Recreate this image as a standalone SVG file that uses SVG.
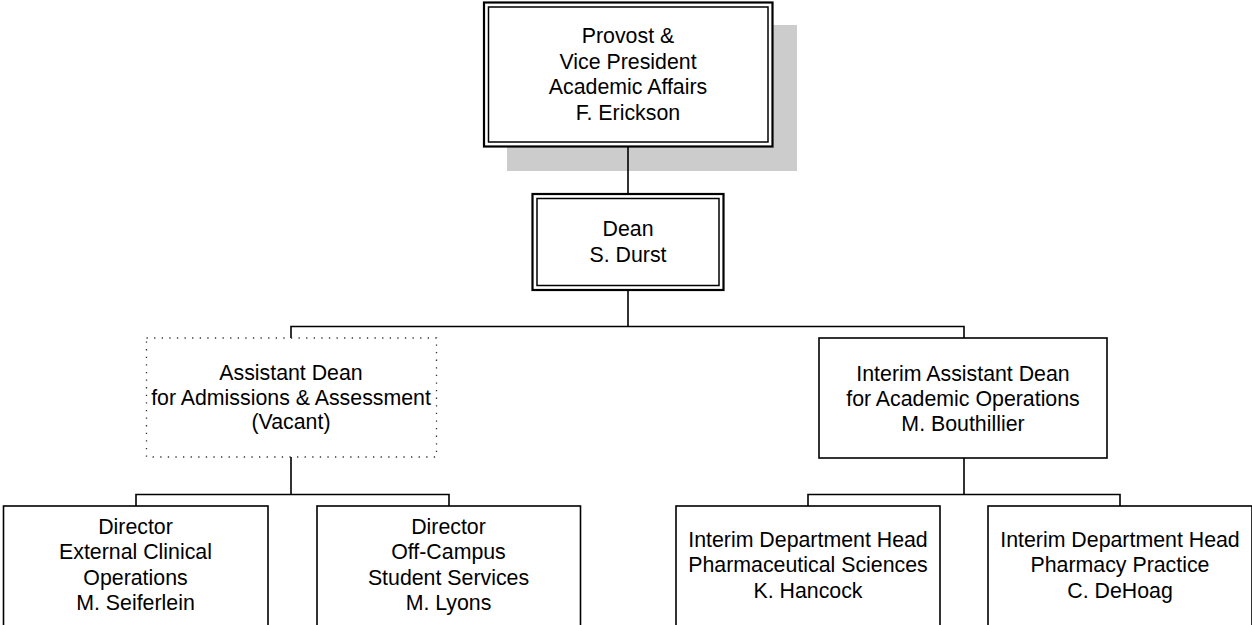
<svg xmlns="http://www.w3.org/2000/svg" width="1252" height="625" viewBox="0 0 1252 625">
<style>
  text { font-family: "Liberation Sans", Arial, sans-serif; font-size: 21.33px; fill: #000; text-anchor: middle; }
  .box { fill: #fff; stroke: #000; stroke-width: 1.6; }
  .outer { fill: #fff; stroke: #000; stroke-width: 2.2; }
  .inner { fill: none; stroke: #000; stroke-width: 1.5; }
  .dotted { fill: #fff; stroke: #333; stroke-width: 1.3; stroke-dasharray: 1.3 6.3; }
  .conn { fill: none; stroke: #000; stroke-width: 1.6; }
  .shadow { fill: #cccccc; }
</style>
<rect width="1252" height="625" fill="#fff"/>
<g id="provost">
  <rect class="shadow" x="507" y="25" width="290" height="146"/>
  <rect class="outer" x="484" y="2.5" width="288.5" height="144"/>
  <rect class="inner" x="488.5" y="7" width="279.5" height="135"/>
  <text x="628" y="43">Provost &amp;</text>
  <text x="628" y="68.5">Vice President</text>
  <text x="628" y="94">Academic Affairs</text>
  <text x="628" y="119.5">F. Erickson</text>
</g>
<g id="connectors">
  <path class="conn" d="M628 147 V194"/>
  <path class="conn" d="M628 290 V326.5 M291 338 V326.5 H964 V338"/>
  <path class="conn" d="M291 457 V494.5 M136 506 V494.5 H449 V506"/>
  <path class="conn" d="M964 458 V494.5 M808 506 V494.5 H1120 V506"/>
</g>
<g id="dean">
  <rect class="outer" x="532.5" y="194" width="191" height="96"/>
  <rect class="inner" x="537" y="198.5" width="182" height="87"/>
  <text x="628" y="236">Dean</text>
  <text x="628" y="261.5">S. Durst</text>
</g>
<g id="asst-dean-admissions">
  <rect class="dotted" x="146.5" y="338" width="290" height="119"/>
  <text x="291" y="380">Assistant Dean</text>
  <text x="291" y="404.5">for Admissions &amp; Assessment</text>
  <text x="291" y="429">(Vacant)</text>
</g>
<g id="asst-dean-academic">
  <rect class="box" x="819" y="338" width="288" height="120"/>
  <text x="963" y="381">Interim Assistant Dean</text>
  <text x="963" y="406">for Academic Operations</text>
  <text x="963" y="431">M. Bouthillier</text>
</g>
<g id="dir-clinical">
  <rect class="box" x="3.5" y="506" width="264.5" height="130"/>
  <text x="135.5" y="533.5">Director</text>
  <text x="135.5" y="559">External Clinical</text>
  <text x="135.5" y="584.5">Operations</text>
  <text x="135.5" y="610">M. Seiferlein</text>
</g>
<g id="dir-offcampus">
  <rect class="box" x="317" y="506" width="263.5" height="130"/>
  <text x="448.5" y="533.5">Director</text>
  <text x="448.5" y="559">Off-Campus</text>
  <text x="448.5" y="584.5">Student Services</text>
  <text x="448.5" y="610">M. Lyons</text>
</g>
<g id="head-pharm-sci">
  <rect class="box" x="676" y="506" width="264" height="130"/>
  <text x="808" y="546.5">Interim Department Head</text>
  <text x="808" y="572">Pharmaceutical Sciences</text>
  <text x="808" y="597.5">K. Hancock</text>
</g>
<g id="head-pharm-practice">
  <rect class="box" x="988" y="506" width="264" height="130"/>
  <text x="1120" y="546.5">Interim Department Head</text>
  <text x="1120" y="572">Pharmacy Practice</text>
  <text x="1120" y="597.5">C. DeHoag</text>
</g>
</svg>
